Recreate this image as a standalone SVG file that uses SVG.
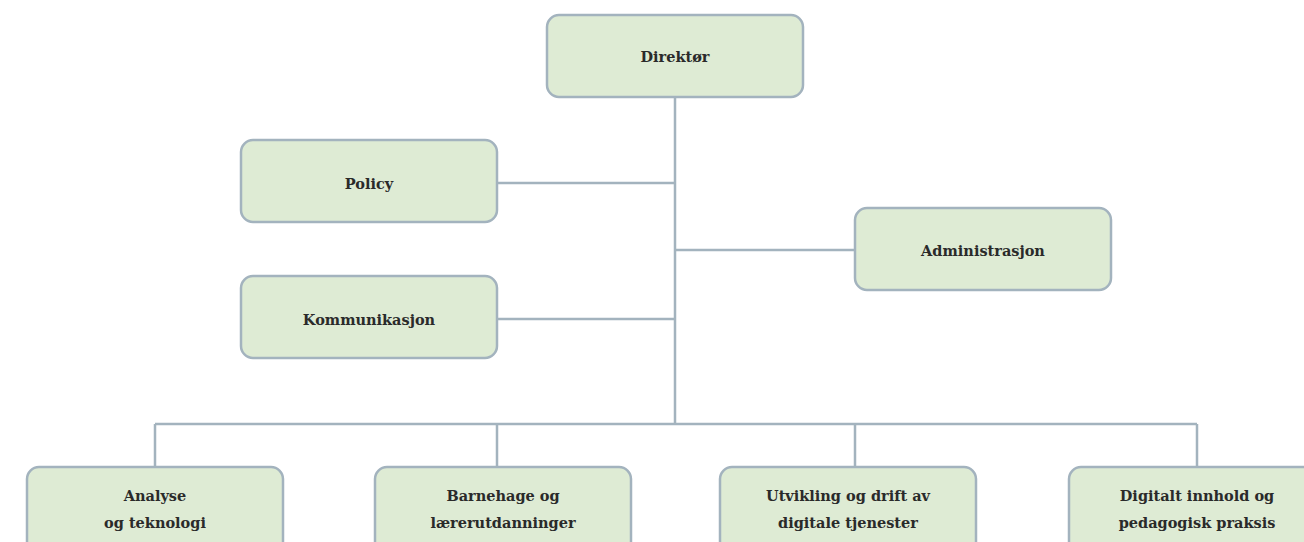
<svg xmlns="http://www.w3.org/2000/svg" width="1304" height="542" viewBox="0 0 1304 542">
<style>
.box{fill:#deebd4;stroke:#a3b3be;stroke-width:2.5}
.ln{stroke:#a3b3be;stroke-width:2.5;fill:none}
text{font-family:"DejaVu Serif",serif;font-weight:bold;font-size:14.5px;fill:#2a2a2a;text-anchor:middle}
</style>
<rect width="1304" height="542" fill="#fff"/>
<g id="connectors">
<path class="ln" d="M675 97V424M497 183H675M497 319H675M675 250H855M155 424H1197M155 424V467M497 424V467M855 424V467M1197 424V467"/>
</g>
<g id="direktor"><rect class="box" x="547" y="15" width="256" height="82" rx="12"/><text x="675" y="62">Direktør</text></g>
<g id="policy"><rect class="box" x="241" y="140" width="256" height="82" rx="12"/><text x="369" y="189">Policy</text></g>
<g id="kommunikasjon"><rect class="box" x="241" y="276" width="256" height="82" rx="12"/><text x="369" y="325">Kommunikasjon</text></g>
<g id="administrasjon"><rect class="box" x="855" y="208" width="256" height="82" rx="12"/><text x="983" y="256">Administrasjon</text></g>
<g id="analyse"><rect class="box" x="27" y="467" width="256" height="95" rx="12"/><text x="155" y="501">Analyse</text><text x="155" y="528">og teknologi</text></g>
<g id="barnehage"><rect class="box" x="375" y="467" width="256" height="95" rx="12"/><text x="503" y="501">Barnehage og</text><text x="503" y="528">lærerutdanninger</text></g>
<g id="utvikling"><rect class="box" x="720" y="467" width="256" height="95" rx="12"/><text x="848" y="501">Utvikling og drift av</text><text x="848" y="528">digitale tjenester</text></g>
<g id="digitalt"><rect class="box" x="1069" y="467" width="256" height="95" rx="12"/><text x="1197" y="501">Digitalt innhold og</text><text x="1197" y="528">pedagogisk praksis</text></g>
</svg>
